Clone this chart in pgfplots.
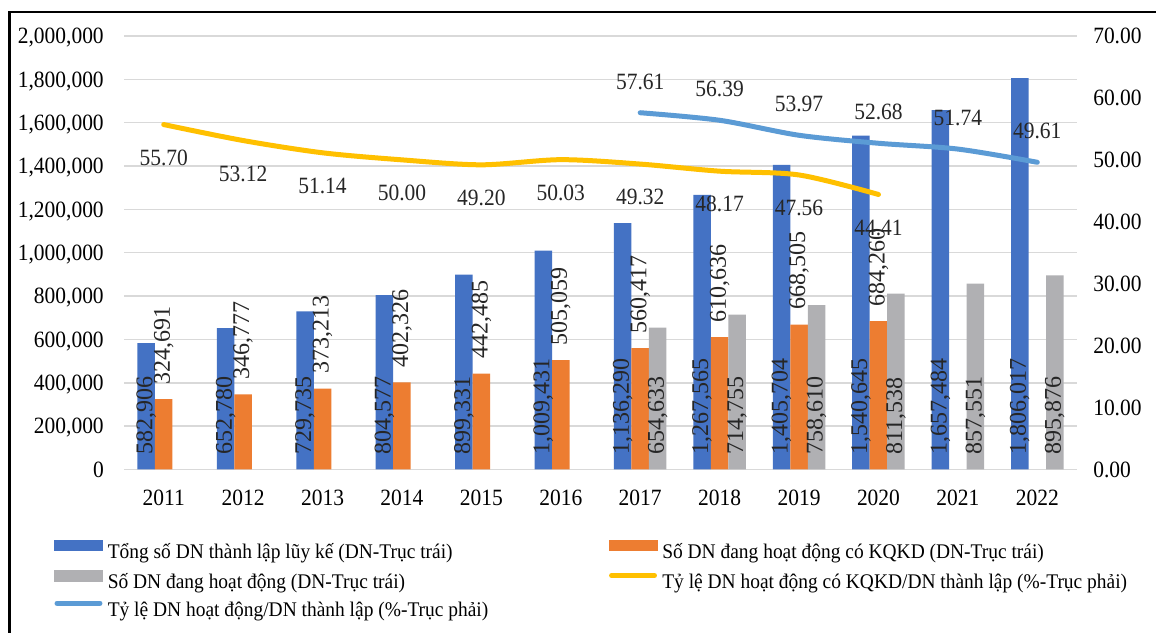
\documentclass[border=0pt]{standalone}
\usepackage{pgfplots}
\pgfplotsset{compat=1.18}
\usepackage{pgfplotstable}
\usepackage{graphicx}
\usepackage{fontspec}
\setmainfont{Liberation Serif}[FakeStretch=0.92]
\newfontfamily\rotfont{Liberation Serif}
\newfontfamily\legfont{Liberation Serif}[FakeStretch=0.935]
\definecolor{cblue}{HTML}{4472C4}
\definecolor{corange}{HTML}{ED7D31}
\definecolor{cgrey}{HTML}{B0B0B3}
\definecolor{cyellow}{HTML}{FFC000}
\definecolor{clblue}{HTML}{5B9BD5}
\definecolor{cgrid}{HTML}{D9D9D9}

\pgfplotstableread{
year tong kqkd hd ltong lkqkd lhd
2011 582906 324691 nan 582,906 324,691 x
2012 652780 346777 nan 652,780 346,777 x
2013 729735 373213 nan 729,735 373,213 x
2014 804577 402326 nan 804,577 402,326 x
2015 899331 442485 nan 899,331 442,485 x
2016 1009431 505059 nan 1,009,431 505,059 x
2017 1136290 560417 654633 1,136,290 560,417 654,633
2018 1267565 610636 714755 1,267,565 610,636 714,755
2019 1405704 668505 758610 1,405,704 668,505 758,610
2020 1540645 684260 811538 1,540,645 684,260 811,538
2021 1657484 nan 857551 1,657,484 x 857,551
2022 1806017 nan 895876 1,806,017 x 895,876
}\bars

\pgfplotstableread{
year ry
2011 55.70
2012 53.12
2013 51.14
2014 50.00
2015 49.20
2016 50.03
2017 49.32
2018 48.17
2019 47.56
2020 44.41
}\yellowline

\pgfplotstableread{
year rb
2017 57.61
2018 56.39
2019 53.97
2020 52.68
2021 51.74
2022 49.61
}\blueline

\pgfplotsset{
  common/.style={
    at={(93pt,121.875pt)}, anchor=south west,
    scale only axis, width=714.75pt, height=325.125pt,
    xmin=2010.5, xmax=2022.5,
    major tick length=0pt,
    /pgf/number format/assume math mode=true,
    tick label style={font=\fontsize{17.5}{20}\selectfont, inner sep=0pt, text depth=0pt},
  },
  barlab/.style={
    nodes near coords={\rotatebox{90}{\pgfplotspointmeta}},
    point meta=explicit symbolic,
    every node near coord/.style={anchor=south, inner sep=0pt, yshift=11pt, xshift=#1,
      font=\rotfont\fontsize{18}{18}\selectfont, text=black!85},
  },
}

\begin{document}
\fontsize{17.5}{21}\selectfont
\begin{tikzpicture}
\useasboundingbox (0,0) rectangle (867pt,474pt);
\fill[white] (0,0) rectangle (867pt,474pt);
\draw[line width=1.9pt] (7.1pt,-5pt) -- (7.1pt,465pt) -- (880pt,465pt);

\begin{axis}[common,
  ymin=0, ymax=2000000,
  ytick={0,200000,400000,600000,800000,1000000,1200000,1400000,1600000,1800000,2000000},
  scaled y ticks=false,
  yticklabel style={/pgf/number format/.cd, fixed, precision=0, 1000 sep={,}},
  xtick={2011,2012,2013,2014,2015,2016,2017,2018,2019,2020,2021,2022},
  xticklabels={2011,2012,2013,2014,2015,2016,2017,2018,2019,2020,2021,2022},
  axis x line*=bottom, axis y line*=left,
  y axis line style={draw=none},
  x axis line style={draw=cgrid, line width=1.1pt},
  ymajorgrids, grid style={draw=cgrid, line width=1.1pt},
  yticklabel shift=15pt, xticklabel shift=15pt,
  clip=false,
]
\addplot[ybar, bar width=13.125pt, bar shift=-13.125pt, fill=cblue, draw=none] table[x=year, y=tong] {\bars};
\addplot[ybar, bar width=13.125pt, bar shift=0pt, fill=corange, draw=none] table[x=year, y=kqkd] {\bars};
\addplot[ybar, bar width=13.125pt, bar shift=13.125pt, fill=cgrey, draw=none] table[x=year, y=hd] {\bars};
% labels
\addplot[ybar, bar width=13.125pt, bar shift=-13.125pt, draw=none, fill=none, barlab=-13.125pt]
  table[x=year, y expr=0, meta=ltong] {\bars};
\addplot[ybar, bar width=13.125pt, bar shift=0pt, draw=none, fill=none, barlab=0pt]
  table[x=year, y=kqkd, meta=lkqkd] {\bars};
\addplot[ybar, bar width=13.125pt, bar shift=13.125pt, draw=none, fill=none, barlab=13.125pt]
  table[x=year, y expr=\thisrow{hd}*0, meta=lhd] {\bars};
\end{axis}

\begin{axis}[common,
  ymin=0, ymax=70,
  ytick={0,10,20,30,40,50,60,70},
  yticklabel style={/pgf/number format/.cd, fixed, fixed zerofill, precision=2},
  axis x line=none, axis y line*=right,
  y axis line style={draw=none},
  yticklabel shift=12pt,
  clip=false,
  legend columns=2,
  legend cell align=left,
  legend style={at={(-0.0735,-0.161)}, anchor=north west, draw=none, fill=none,
    inner sep=0pt, row sep=5.4pt,
    font=\legfont\fontsize{15.6}{15.6}\selectfont,
    nodes={inner sep=0pt, text height=11pt, text depth=3.5pt},
    /tikz/every odd column/.append style={column sep=3.75pt},
    /tikz/every even column/.append style={column sep=0pt}},
]
\addlegendimage{legend image code/.code={\fill[cblue] (0pt,1.9pt) rectangle (36pt,10.1pt);}}
\addlegendentry{\makebox[375.75pt][l]{Tổng số DN thành lập lũy kế (DN-Trục trái)}}
\addlegendimage{legend image code/.code={\fill[corange] (0pt,1.9pt) rectangle (36pt,10.1pt);}}
\addlegendentry{Số DN đang hoạt động có KQKD (DN-Trục trái)}
\addlegendimage{legend image code/.code={\fill[cgrey] (0pt,1.9pt) rectangle (36pt,10.1pt);}}
\addlegendentry{\makebox[375.75pt][l]{Số DN đang hoạt động (DN-Trục trái)}}

\addplot[cyellow, line width=3.75pt, line cap=round, smooth,
  legend image code/.code={\draw[cyellow, line width=3.75pt, line cap=round] (1.9pt,6.3pt) -- (34.1pt,6.3pt);}]
  table[x=year, y=ry] {\yellowline};
\addlegendentry{Tỷ lệ DN hoạt động có KQKD/DN thành lập (\%-Trục phải)}
\addplot[clblue, line width=3.75pt, line cap=round, smooth,
  legend image code/.code={\draw[clblue, line width=3.75pt, line cap=round] (1.9pt,6.3pt) -- (34.1pt,6.3pt);}]
  table[x=year, y=rb] {\blueline};
\addlegendentry{\makebox[375.75pt][l]{Tỷ lệ DN hoạt động/DN thành lập (\%-Trục phải)}}

\addplot[draw=none, forget plot, nodes near coords={\pgfmathprintnumber[fixed,fixed zerofill,precision=2]{\pgfplotspointmeta}},
  point meta=y,
  every node near coord/.style={anchor=center, inner sep=0pt, yshift=-24.75pt, font=\fontsize{17.5}{20}\selectfont, text=black!85}]
  table[x=year, y=ry] {\yellowline};
\addplot[draw=none, forget plot, nodes near coords={\pgfmathprintnumber[fixed,fixed zerofill,precision=2]{\pgfplotspointmeta}},
  point meta=y,
  every node near coord/.style={anchor=center, inner sep=0pt, yshift=23.25pt, font=\fontsize{17.5}{20}\selectfont, text=black!85}]
  table[x=year, y=rb] {\blueline};
\end{axis}
\end{tikzpicture}
\end{document}
